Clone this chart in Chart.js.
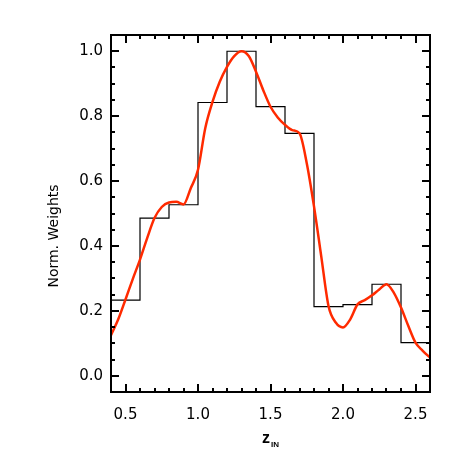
<!DOCTYPE html>
<html>
<head>
<meta charset="utf-8">
<script src="https://cdn.jsdelivr.net/npm/chart.js@4"></script>
<style>
  html, body { margin: 0; padding: 0; background: #fff; }
  #wrap { width: 463px; height: 463px; }
</style>
</head>
<body>
<div id="wrap"><canvas id="myChart" width="463" height="463"></canvas></div>
<script>
// histogram bins (left edges, width 0.2) and normalised weights
const binEdges = [0.4, 0.6, 0.8, 1.0, 1.2, 1.4, 1.6, 1.8, 2.0, 2.2, 2.4];
const binWidth = 0.2;
const binWeights = [0.233, 0.486, 0.527, 0.842, 1.0, 0.829, 0.747, 0.213, 0.219, 0.282, 0.102];

// smooth red curve
const curveX = [0.4, 0.45, 0.5, 0.55, 0.6, 0.65, 0.7, 0.75, 0.8, 0.85, 0.9, 0.95, 1.0, 1.05, 1.1, 1.15, 1.2, 1.25, 1.3,
                1.35, 1.4, 1.45, 1.5, 1.55, 1.6, 1.65, 1.7, 1.75, 1.8, 1.85, 1.9, 1.95, 2.0, 2.05, 2.1, 2.15, 2.2,
                2.25, 2.3, 2.35, 2.4, 2.45, 2.5, 2.55, 2.6];
const curveY = [0.125, 0.174, 0.235, 0.298, 0.358, 0.425, 0.486, 0.52, 0.534, 0.536, 0.528, 0.578, 0.635, 0.763, 0.844,
                0.906, 0.952, 0.985, 1.0, 0.985, 0.937, 0.88, 0.829, 0.796, 0.773, 0.757, 0.747, 0.655, 0.522, 0.368,
                0.215, 0.164, 0.149, 0.174, 0.22, 0.233, 0.248, 0.266, 0.282, 0.256, 0.21, 0.154, 0.102, 0.077, 0.056];

const xTicks = [0.5, 1.0, 1.5, 2.0, 2.5];
const yTicks = [0.0, 0.2, 0.4, 0.6, 0.8, 1.0];
const xTitle = 'z';
const xTitleSub = 'IN';
const yTitle = 'Norm. Weights';

// one point per edge, last bin closed at its right edge
const histPoints = binEdges.map((e, i) => ({ x: e, y: binWeights[i] }));
histPoints.push({ x: binEdges[binEdges.length - 1] + binWidth, y: binWeights[binWeights.length - 1] });
const curvePoints = curveX.map((x, i) => ({ x: x, y: curveY[i] }));

// frame, inward ticks on all four sides, axis titles
const framePlugin = {
    id: 'frame',
    afterDraw(chart) {
        const c = chart.ctx;
        const a = chart.chartArea;
        const xs = chart.scales.x, ys = chart.scales.y;
        c.save();
        c.strokeStyle = '#000';
        c.lineWidth = 2;
        c.beginPath();
        // x ticks, minor every 0.1
        for (let k = 4; k <= 26; k++) {
            const px = Math.round(xs.getPixelForValue(k / 10));
            const len = (k % 5 === 0) ? 8 : 4;
            c.moveTo(px, a.bottom); c.lineTo(px, a.bottom - len);
            c.moveTo(px, a.top); c.lineTo(px, a.top + len);
        }
        // y ticks, minor every 0.05
        for (let k = 0; k <= 20; k++) {
            const py = Math.round(ys.getPixelForValue(k / 20));
            const len = (k % 4 === 0) ? 8 : 4;
            c.moveTo(a.left, py); c.lineTo(a.left + len, py);
            c.moveTo(a.right, py); c.lineTo(a.right - len, py);
        }
        c.stroke();
        c.strokeRect(a.left, a.top, a.right - a.left, a.bottom - a.top);

        c.fillStyle = '#000';
        // x title with subscript
        c.textBaseline = 'alphabetic';
        c.font = 'bold 16px "Liberation Sans"';
        const zw = c.measureText(xTitle).width;
        c.font = 'bold 8px "Liberation Sans"';
        const sw = c.measureText(xTitleSub).width;
        const x0 = (a.left + a.right) / 2 - (zw + sw + 1) / 2;
        c.font = 'bold 16px "Liberation Sans"';
        c.fillText(xTitle, x0, 443);
        c.font = 'bold 8px "Liberation Sans"';
        c.fillText(xTitleSub, x0 + zw + 1, 447);
        // y title
        c.translate(54, 236);
        c.rotate(-Math.PI / 2);
        c.textAlign = 'center';
        c.textBaseline = 'middle';
        c.font = '14px "DejaVu Sans"';
        c.fillText(yTitle, 0, 0);
        c.restore();
    }
};

const ctx = document.getElementById('myChart').getContext('2d');
const myChart = new Chart(ctx, {
    type: 'line',
    data: {
        datasets: [{
            label: 'smooth',
            data: curvePoints,
            borderColor: '#ff2a00',
            borderWidth: 2.5,
            pointRadius: 0,
            cubicInterpolationMode: 'monotone',
            fill: false
        }, {
            label: 'hist',
            data: histPoints,
            borderColor: '#000',
            borderWidth: 1.2,
            pointRadius: 0,
            stepped: true,
            fill: false
        }]
    },
    options: {
        responsive: false,
        animation: false,
        events: [],
        layout: { padding: { left: 0, right: 33, top: 35, bottom: 0 } },
        plugins: { legend: { display: false }, tooltip: { enabled: false } },
        scales: {
            x: {
                type: 'linear',
                min: 0.4,
                max: 2.6,
                grid: { display: false, drawTicks: false },
                border: { display: false },
                afterBuildTicks: (s) => { s.ticks = xTicks.map(v => ({ value: v })); },
                afterFit: (s) => { s.height = 71; },
                ticks: {
                    color: '#000',
                    font: { family: 'DejaVu Sans', size: 15 },
                    padding: 14,
                    maxRotation: 0,
                    callback: (v) => Number(v).toFixed(1)
                }
            },
            y: {
                type: 'linear',
                min: -0.05,
                max: 1.05,
                grid: { display: false, drawTicks: false },
                border: { display: false },
                afterBuildTicks: (s) => { s.ticks = yTicks.map(v => ({ value: v })); },
                afterFit: (s) => { s.width = 111; },
                ticks: {
                    color: '#000',
                    font: { family: 'DejaVu Sans', size: 15 },
                    padding: 8,
                    callback: (v) => Number(v).toFixed(1)
                }
            }
        }
    },
    plugins: [framePlugin]
});
</script>
</body>
</html>
